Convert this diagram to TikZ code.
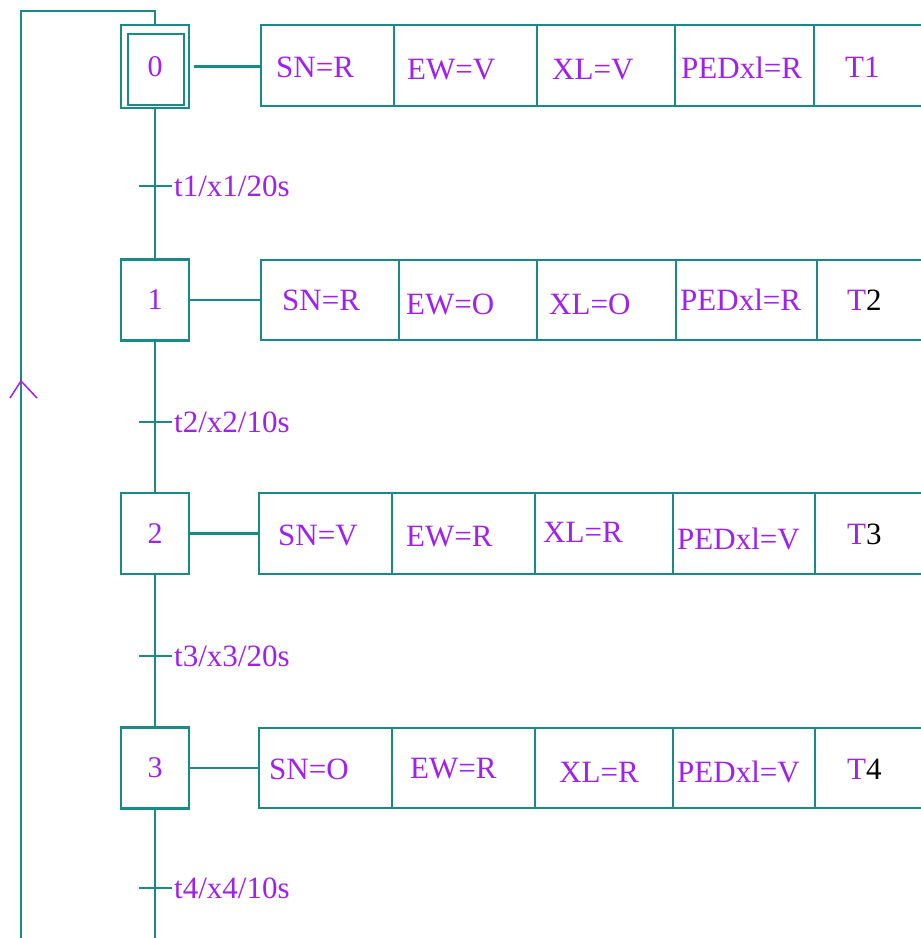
\documentclass[tikz,border=0pt]{standalone}
\usepackage{fontspec}
\setmainfont{Liberation Serif}
\definecolor{tealline}{RGB}{24,138,136}
\definecolor{purp}{RGB}{160,32,240}
\tikzset{
  line/.style={draw=tealline, line width=2.2pt},
  stepbox/.style={draw=tealline, line width=2.4pt, minimum width=68pt, minimum height=81pt, inner sep=0pt, text=purp, font=\fontsize{30}{34}\selectfont},
  cell/.style={draw=tealline, line width=2.6pt, inner sep=0pt},
  lbl/.style={anchor=west, inner sep=0pt, text=purp, font=\fontsize{31}{35}\selectfont},
  tick/.style={draw=tealline, line width=2.2pt},
}
\newcommand{\mycell}[5]{% name, x1, x2, ytop, ybot
  \node[cell, minimum width={#3-#2}, minimum height={#5-#4}] (#1) at ({(#2+#3)/2},{(#4+#5)/2}) {};}
\begin{document}
\begin{tikzpicture}[x=1pt, y=-1pt]
\clip (0,0) rectangle (921,938);
\fill[white] (0,0) rectangle (921,938);

% steps
\node[stepbox, minimum height=83pt] (s0) at (155,66.5) {0};
\draw[line, line width=2.4pt] ([shift={(8,10)}]s0.north west) rectangle ([shift={(-6,-4)}]s0.south east);
\node[stepbox] (s1) at (155,300) {1};
\node[stepbox] (s2) at (155,533.5) {2};
\node[stepbox] (s3) at (155,768) {3};

% action cells row 0
\mycell{c00}{261}{394}{25}{106}
\mycell{c01}{394}{537}{25}{106}
\mycell{c02}{537}{675}{25}{106}
\mycell{c03}{675}{814}{25}{106}
\mycell{c04}{814}{945}{25}{106}
% row 1
\mycell{c10}{261}{399}{260}{340}
\mycell{c11}{399}{537}{260}{340}
\mycell{c12}{537}{676}{260}{340}
\mycell{c13}{676}{817}{260}{340}
\mycell{c14}{817}{945}{260}{340}
% row 2
\mycell{c20}{259}{392}{493}{574}
\mycell{c21}{392}{535}{493}{574}
\mycell{c22}{535}{673}{493}{574}
\mycell{c23}{673}{815}{493}{574}
\mycell{c24}{815}{945}{493}{574}
% row 3
\mycell{c30}{259}{392}{728}{808}
\mycell{c31}{392}{535}{728}{808}
\mycell{c32}{535}{673}{728}{808}
\mycell{c33}{673}{815}{728}{808}
\mycell{c34}{815}{945}{728}{808}

% links step -> actions
\draw[line] ([xshift=4pt]s0.east) -- (s0.east -| c00.west);
\draw[line] (s1.east) -- (s1.east -| c10.west);
\draw[line] (s2.east) -- (s2.east -| c20.west);
\draw[line] (s3.east) -- (s3.east -| c30.west);

% texts row 0
\node[lbl] (a00) at (276,67) {SN=R};
\node[lbl] (a01) at (407,70) {EW=V};
\node[lbl] (a02) at (552,70) {XL=V};
\node[lbl] (a03) at (681,68) {PEDxl=R};
\node[lbl] (a04) at (845,67) {T1};
% row 1
\node[lbl] (a10) at (282,300) {SN=R};
\node[lbl] (a11) at (406,304) {EW=O};
\node[lbl] (a12) at (549,304) {XL=O};
\node[lbl] (a13) at (680,300) {PEDxl=R};
\node[lbl] (a14) at (847,300) {T\textcolor{black}{2}};
% row 2
\node[lbl] (a20) at (278,535) {SN=V};
\node[lbl] (a21) at (406,537) {EW=R};
\node[lbl] (a22) at (543,532) {XL=R};
\node[lbl] (a23) at (677,539) {PEDxl=V};
\node[lbl] (a24) at (847,534) {T\textcolor{black}{3}};
% row 3
\node[lbl] (a30) at (269,769) {SN=O};
\node[lbl] (a31) at (410,769) {EW=R};
\node[lbl] (a32) at (559,772) {XL=R};
\node[lbl] (a33) at (677,772) {PEDxl=V};
\node[lbl] (a34) at (847,769) {T\textcolor{black}{4}};

% main vertical line
\draw[line] (s0.south) -- (s1.north);
\draw[line] (s1.south) -- (s2.north);
\draw[line] (s2.south) -- (s3.north);
\coordinate (bot) at (155,945);
\draw[line] (s3.south) -- (bot);

% transitions
\coordinate (t1) at (155,186);
\coordinate (t2) at (155,422);
\coordinate (t3) at (155,656);
\coordinate (t4) at (155,888);
\foreach \t/\txt in {t1/t1\slash x1\slash 20s, t2/t2\slash x2\slash 10s, t3/t3\slash x3\slash 20s, t4/t4\slash x4\slash 10s}{
  \draw[tick] ([xshift=-16pt]\t) -- ([xshift=17pt]\t);
  \node[lbl] at ([xshift=19pt]\t) {\txt};
}

% return loop
\coordinate (rb) at (21,945);
\coordinate (rt) at (21,11);
\draw[line] (rb) -- (rt) -| (s0.north);
\coordinate (ra) at (21,381);
\draw[purp, line width=1.5pt] ([shift={(-11,17)}]ra) -- (ra) -- ([shift={(16,17)}]ra);
\end{tikzpicture}
\end{document}
